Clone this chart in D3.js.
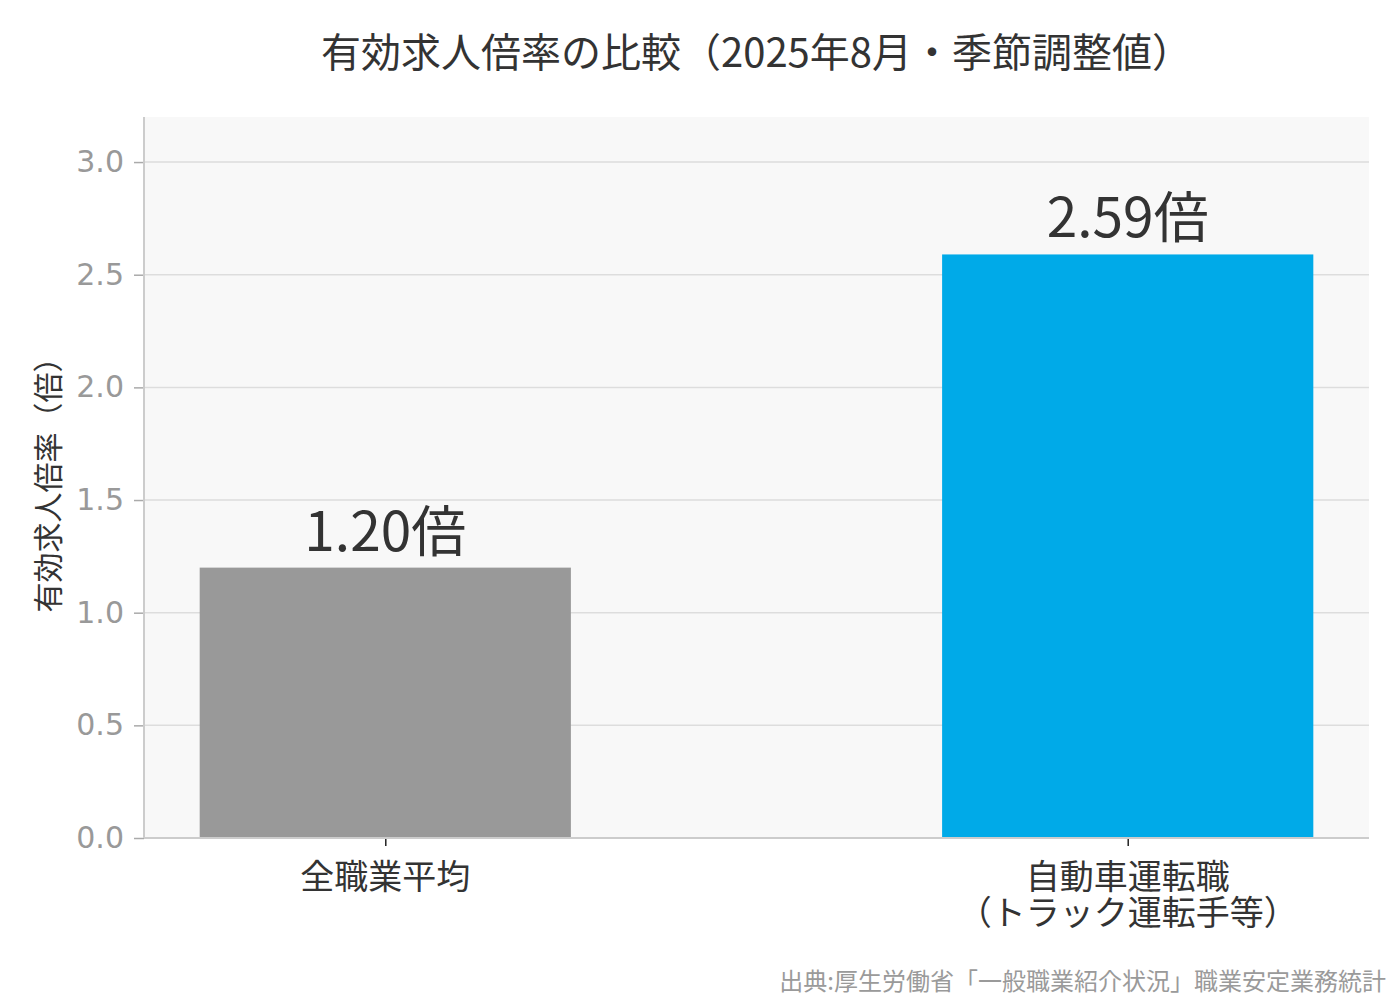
<!DOCTYPE html>
<html><head><meta charset="utf-8">
<script src="https://cdn.jsdelivr.net/npm/d3@7"></script>
<style>
html,body{margin:0;padding:0;background:#fff;}
svg{display:block;}
</style></head>
<body>
<svg id="chart" width="1400" height="1000"></svg>
<script>
const categories = ["全職業平均", "自動車運転職\n（トラック運転手等）"];
const values = [1.20, 2.59];
const barColors = ["#999999", "#00AAE8"];
const yTicks = [0.0, 0.5, 1.0, 1.5, 2.0, 2.5, 3.0];
const titleText = "有効求人倍率の比較（2025年8月・季節調整値）";
const yLabelText = "有効求人倍率（倍）";
const sourceText = "出典:厚生労働省「一般職業紹介状況」職業安定業務統計";

const CJK = "'Noto Sans CJK JP', 'Noto Sans', sans-serif";
const svg = d3.select("#chart");
const m = {left:144, right:1369, top:117, bottom:838};

const x = d3.scaleLinear().domain([-0.325, 1.325]).range([m.left, m.right]);
const y = d3.scaleLinear().domain([0, 3.2]).range([m.bottom, m.top]);
const barW = x(0.5) - x(0);

// background
svg.append("rect").attr("x", m.left).attr("y", m.top)
  .attr("width", m.right - m.left).attr("height", m.bottom - m.top)
  .attr("fill", "#f8f8f8");

// grid
svg.append("g").selectAll("line").data(yTicks).join("line")
  .attr("x1", m.left).attr("x2", m.right)
  .attr("y1", d => y(d)).attr("y2", d => y(d))
  .attr("stroke", "#dddddd").attr("stroke-width", 1.5);

// bars
svg.append("g").selectAll("rect").data(values).join("rect")
  .attr("x", (d,i) => x(i) - barW/2)
  .attr("width", barW)
  .attr("y", d => y(d))
  .attr("height", d => y(0) - y(d))
  .attr("fill", (d,i) => barColors[i]);

// y axis
const yAxis = d3.axisLeft(y).tickValues(yTicks).tickFormat(d3.format(".1f"))
  .tickSize(10).tickPadding(10);
const gy = svg.append("g").attr("transform", `translate(${m.left},0)`).call(yAxis);
gy.select(".domain").remove();
gy.selectAll(".tick line").attr("stroke", "#aaaaaa").attr("stroke-width", 1.5);
gy.selectAll(".tick text").attr("fill", "#999999")
  .style("font-family", "'DejaVu Sans', sans-serif").style("font-size", "30px");

// x axis
const xAxis = d3.axisBottom(x).tickValues(d3.range(categories.length)).tickFormat("").tickSize(8);
const gx = svg.append("g").attr("transform", `translate(0,${m.bottom})`).call(xAxis);
gx.select(".domain").remove();
gx.selectAll(".tick line").attr("stroke", "#222").attr("stroke-width", 1.5);

// spines
svg.append("line").attr("x1", m.left).attr("x2", m.left).attr("y1", m.top).attr("y2", m.bottom)
  .attr("stroke", "#cccccc").attr("stroke-width", 2);
svg.append("line").attr("x1", m.left).attr("x2", m.right).attr("y1", m.bottom).attr("y2", m.bottom)
  .attr("stroke", "#cccccc").attr("stroke-width", 2);

// x category labels
categories.forEach((c, i) => {
  const lines = c.split("\n");
  const t = svg.append("text").attr("text-anchor", "middle")
    .attr("x", x(i)).attr("y", 889)
    .attr("fill", "#333").style("font-family", CJK).style("font-size", "34px");
  lines.forEach((ln, k) => {
    t.append("tspan").attr("x", x(i)).attr("dy", k === 0 ? 0 : 36).text(ln);
  });
});

// value labels
svg.append("g").selectAll("text").data(values).join("text")
  .attr("x", (d,i) => x(i)).attr("y", d => y(d) - 17)
  .attr("text-anchor", "middle").attr("fill", "#333")
  .style("font-family", CJK).style("font-size", "55px")
  .text(d => d.toFixed(2) + "倍");

// title
svg.append("text").attr("x", (m.left + m.right)/2).attr("y", 67)
  .attr("text-anchor", "middle").attr("fill", "#333")
  .style("font-family", CJK).style("font-size", "40px").text(titleText);

// y label
svg.append("text").attr("transform", `translate(59,${(m.top+m.bottom)/2}) rotate(-90)`)
  .attr("text-anchor", "middle").attr("fill", "#333")
  .style("font-family", CJK).style("font-size", "30px").text(yLabelText);

// source
svg.append("text").attr("x", 1386).attr("y", 990).attr("text-anchor", "end")
  .attr("fill", "#9a9a9a").style("font-family", CJK).style("font-size", "24px").text(sourceText);
</script>
</body></html>
